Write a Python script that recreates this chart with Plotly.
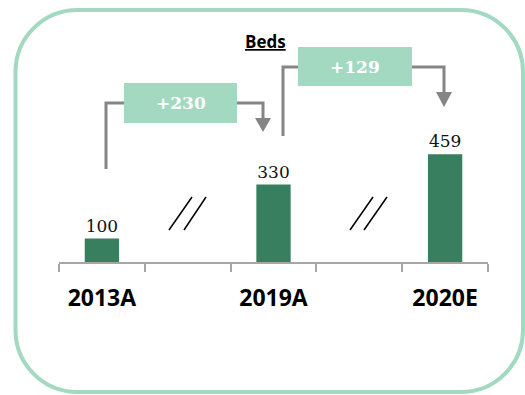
import plotly.graph_objects as go

# ---- data ----
categories = ["2013A", "", "2019A", "", "2020E"]
label_positions = [0, 2, 4]
label_text = ["2013A", "2019A", "2020E"]
bar_x = [0, 2, 4]
beds = [100, 330, 459]
title_text = "Beds"

# ---- layout constants (pixels) ----
FW, FH = 525, 395
L, R, T, B = 59, 37, 4, 133
PW, PH = FW - L - R, FH - T - B
XMIN, XMAX = -0.5, 4.5
YMIN, YMAX = 0, 1100

def xd(px):
    return XMIN + (px - L) / PW * (XMAX - XMIN)

def yd(py):
    return YMIN + (T + PH - py) / PH * (YMAX - YMIN)

def xp(px):
    return (px - L) / PW

def yp(py):
    return (T + PH - py) / PH

BAR = "#377F5F"
MINT = "#A3D9C1"
GREY = "#858585"

fig = go.Figure()
fig.add_trace(go.Bar(
    x=bar_x, y=beds, width=0.4, marker=dict(color=BAR, line=dict(width=0)),
    text=[str(v) for v in beds], textposition="outside",
    textfont=dict(family="DejaVu Serif", size=17, color="#111111"),
    cliponaxis=False, hoverinfo="skip",
))

shapes = []

# rounded border (paper coords)
bx0, bx1, by0, by1, r = 15.5, 523, 10, 392, 62
k = 0.5523 * r
def P(px, py):
    return f"{xp(px):.5f},{yp(py):.5f}"
path = (
    f"M {P(bx0 + r, by0)} L {P(bx1 - r, by0)} "
    f"C {P(bx1 - r + k, by0)} {P(bx1, by0 + r - k)} {P(bx1, by0 + r)} "
    f"L {P(bx1, by1 - r)} "
    f"C {P(bx1, by1 - r + k)} {P(bx1 - r + k, by1)} {P(bx1 - r, by1)} "
    f"L {P(bx0 + r, by1)} "
    f"C {P(bx0 + r - k, by1)} {P(bx0, by1 - r + k)} {P(bx0, by1 - r)} "
    f"L {P(bx0, by0 + r)} "
    f"C {P(bx0, by0 + r - k)} {P(bx0 + r - k, by0)} {P(bx0 + r, by0)} Z"
)
shapes.append(dict(type="path", xref="paper", yref="paper", path=path,
                   line=dict(color=MINT, width=4), fillcolor="rgba(0,0,0,0)", layer="below"))

# connectors: (start_x, start_y, top_y, box_x0, box_x1, box_y0, box_y1, arrow_x, arrow_y, tip_y)
connectors = [
    (106, 169, 103, 124, 237, 83, 123, 263, 118, 132),
    (283, 136, 67, 298, 412, 47, 86, 444, 92, 107),
]
annotations = []
for i, (sx, sy, ty, b0, b1, c0, c1, ax, ay, tip) in enumerate(connectors):
    shapes.append(dict(type="path", xref="x", yref="y",
                       path=f"M {xd(sx)},{yd(sy)} L {xd(sx)},{yd(ty)} L {xd(b0)},{yd(ty)}",
                       line=dict(color=GREY, width=3)))
    shapes.append(dict(type="path", xref="x", yref="y",
                       path=f"M {xd(b1)},{yd(ty)} L {xd(ax)},{yd(ty)} L {xd(ax)},{yd(ay + 1)}",
                       line=dict(color=GREY, width=3)))
    shapes.append(dict(type="path", xref="x", yref="y",
                       path=f"M {xd(ax - 8)},{yd(ay)} L {xd(ax + 8)},{yd(ay)} L {xd(ax)},{yd(tip)} Z",
                       line=dict(color=GREY, width=0), fillcolor=GREY))
    shapes.append(dict(type="rect", xref="x", yref="y",
                       x0=xd(b0), x1=xd(b1), y0=yd(c1), y1=yd(c0),
                       line=dict(width=0), fillcolor=MINT))
    delta = beds[i + 1] - beds[i]
    annotations.append(dict(x=(xd(b0) + xd(b1)) / 2, y=(yd(c0) + yd(c1)) / 2,
                            xref="x", yref="y", text=f"<b>+{delta}</b>", showarrow=False,
                            font=dict(family="DejaVu Serif", size=17, color="white")))

# axis break marks
breaks = [
    ((169, 230, 192, 197), (184, 230, 206, 197)),
    ((350, 230, 373, 197), (364, 230, 387, 197)),
]
for pair in breaks:
    for (x0, y0, x1, y1) in pair:
        shapes.append(dict(type="line", xref="x", yref="y",
                           x0=xd(x0), y0=yd(y0), x1=xd(x1), y1=yd(y1),
                           line=dict(color="black", width=1.5)))

annotations.append(dict(x=xp(265), y=yp(28), xref="paper", yref="paper",
                        text=f"<b><u>{title_text}</u></b>", showarrow=False,
                        font=dict(family="Open Sans", size=17, color="black")))

fig.update_layout(
    width=FW, height=FH,
    margin=dict(l=L, r=R, t=T, b=B, pad=0),
    paper_bgcolor="white", plot_bgcolor="white",
    showlegend=False,
    shapes=shapes, annotations=annotations,
    xaxis=dict(range=[XMIN, XMAX], tickmode="array", tickvals=label_positions,
               ticktext=[f"<b>{t}</b>" for t in label_text],
               tickfont=dict(family="Open Sans", size=23, color="black"),
               ticks="", showgrid=False, zeroline=False,
               showline=True, linecolor="#A6A6A6", linewidth=2,
               ticklabelstandoff=14,
               minor=dict(tickmode="array", tickvals=[-0.5, 0.5, 1.5, 2.5, 3.5, 4.5],
                          ticks="outside", ticklen=8, tickwidth=2, tickcolor="#A6A6A6",
                          showgrid=False),
               fixedrange=True),
    yaxis=dict(range=[YMIN, YMAX], visible=False, showgrid=False, fixedrange=True),
)

fig.write_html("out.html", config={"displayModeBar": False})
